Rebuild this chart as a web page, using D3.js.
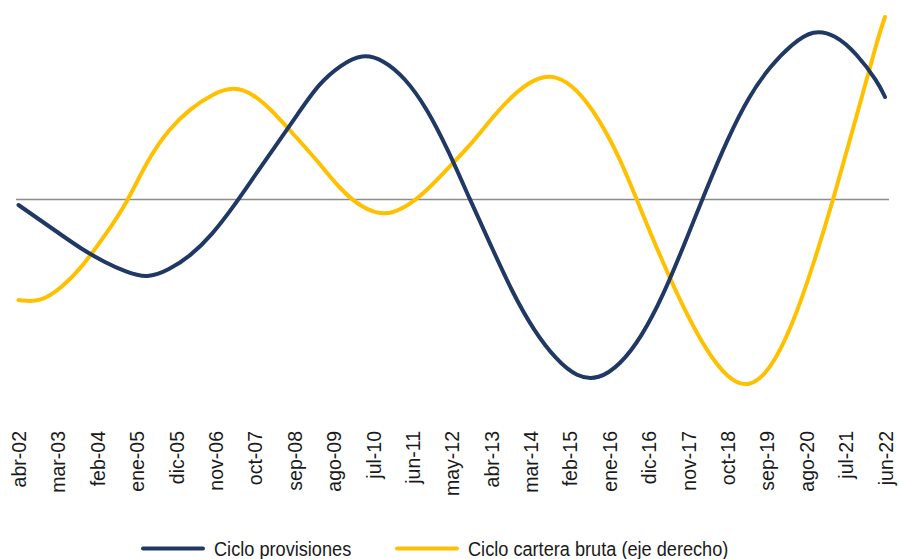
<!DOCTYPE html>
<html>
<head>
<meta charset="utf-8">
<script src="https://cdn.jsdelivr.net/npm/d3@7"></script>
<style>
  body { margin: 0; background: #fff; }
  svg { display: block; font-family: "Liberation Sans", Arial, sans-serif; }
</style>
</head>
<body>
<svg id="chart" width="899" height="559"></svg>
<script>
// month offsets from abr-02 (every 6 months, plus last point jun-22)
const months = [0, 6, 12, 18, 24, 30, 36, 42, 48, 54, 60, 66, 72, 78, 84, 90, 96, 102, 108, 114, 120,
  126, 132, 138, 144, 150, 156, 162, 168, 174, 180, 186, 192, 198, 204, 210, 216, 222, 228, 234, 240, 242];

const provisiones = [-0.11, -0.41, -0.71, -1.01, -1.25, -1.45, -1.58, -1.41, -1.13, -0.71, -0.15,
  0.48, 1.09, 1.71, 2.33, 2.69, 2.92, 2.79, 2.43, 1.83, 0.99,
  0.01, -0.93, -1.87, -2.63, -3.19, -3.56, -3.60, -3.31, -2.75, -1.93,
  -0.89, 0.19, 1.21, 2.07, 2.67, 3.11, 3.40, 3.30, 2.93, 2.35, 2.05];

const cartera = [-2.01, -2.06, -1.77, -1.33, -0.73, -0.11, 0.79, 1.41, 1.82, 2.10, 2.27,
  2.10, 1.69, 1.21, 0.73, 0.19, -0.17, -0.33, -0.17, 0.17, 0.63,
  1.07, 1.61, 2.09, 2.42, 2.50, 2.21, 1.63, 0.83, -0.24, -1.27,
  -2.21, -3.01, -3.58, -3.78, -3.41, -2.55, -1.31, 0.11, 1.65, 3.23, 3.65];

const tickMonths = [0, 11, 22, 33, 44, 55, 66, 77, 88, 99, 110, 121, 132, 143, 154, 165, 176, 187, 198, 209, 220, 231, 242];
const tickLabels = ["abr-02", "mar-03", "feb-04", "ene-05", "dic-05", "nov-06", "oct-07", "sep-08", "ago-09", "jul-10",
  "jun-11", "may-12", "abr-13", "mar-14", "feb-15", "ene-16", "dic-16", "nov-17", "oct-18", "sep-19", "ago-20", "jul-21", "jun-22"];

const colProv = "#1f3864", colCart = "#ffc000";

const svg = d3.select("#chart");

const x = d3.scaleLinear().domain([0, 242]).range([18.5, 885]);
const yLeft = d3.scaleLinear().domain([-4, 4]).range([399.5, -0.5]);
const yRight = d3.scaleLinear().domain([-4, 4]).range([399.5, -0.5]);

// zero line
svg.append("line")
  .attr("x1", 16).attr("x2", 889)
  .attr("y1", yLeft(0)).attr("y2", yLeft(0))
  .attr("stroke", "#8c8c8c").attr("stroke-width", 1.3);

const lineProv = d3.line()
  .x((d, i) => x(months[i]))
  .y(d => yLeft(d))
  .curve(d3.curveBasis);

const lineCart = d3.line()
  .x((d, i) => x(months[i]))
  .y(d => yRight(d))
  .curve(d3.curveBasis);

svg.append("path").datum(cartera)
  .attr("d", lineCart)
  .attr("fill", "none").attr("stroke", colCart)
  .attr("stroke-width", 4).attr("stroke-linecap", "round");

svg.append("path").datum(provisiones)
  .attr("d", lineProv)
  .attr("fill", "none").attr("stroke", colProv)
  .attr("stroke-width", 4).attr("stroke-linecap", "round");

// x axis labels (rotated)
const xAxis = d3.axisBottom(x)
  .tickValues(tickMonths)
  .tickFormat((d, i) => tickLabels[i])
  .tickSize(0);

const gx = svg.append("g")
  .attr("transform", "translate(0,431)")
  .call(xAxis);
gx.select(".domain").remove();
gx.selectAll("text")
  .attr("transform", "rotate(-90)")
  .attr("text-anchor", "end")
  .attr("x", 0).attr("y", 0)
  .attr("dy", "0.36em")
  .style("font-family", "'Liberation Sans', Arial, sans-serif")
  .style("font-size", "19.5px")
  .attr("fill", "#1a1a1a");

// legend (narrow look: horizontally squeezed text)
const legend = [
  {name: "Ciclo provisiones", color: colProv, x: 143},
  {name: "Ciclo cartera bruta (eje derecho)", color: colCart, x: 397}
];
const lg = svg.append("g").selectAll("g").data(legend).enter().append("g")
  .attr("transform", d => `translate(${d.x},548.5)`);
lg.append("line")
  .attr("x1", 0).attr("x2", 60).attr("y1", 0).attr("y2", 0)
  .attr("stroke", d => d.color).attr("stroke-width", 4).attr("stroke-linecap", "round");
lg.append("text")
  .attr("transform", "translate(71,7.5) scale(0.865,1)")
  .style("font-size", "21px")
  .attr("fill", "#1a1a1a")
  .text(d => d.name);
</script>
</body>
</html>
